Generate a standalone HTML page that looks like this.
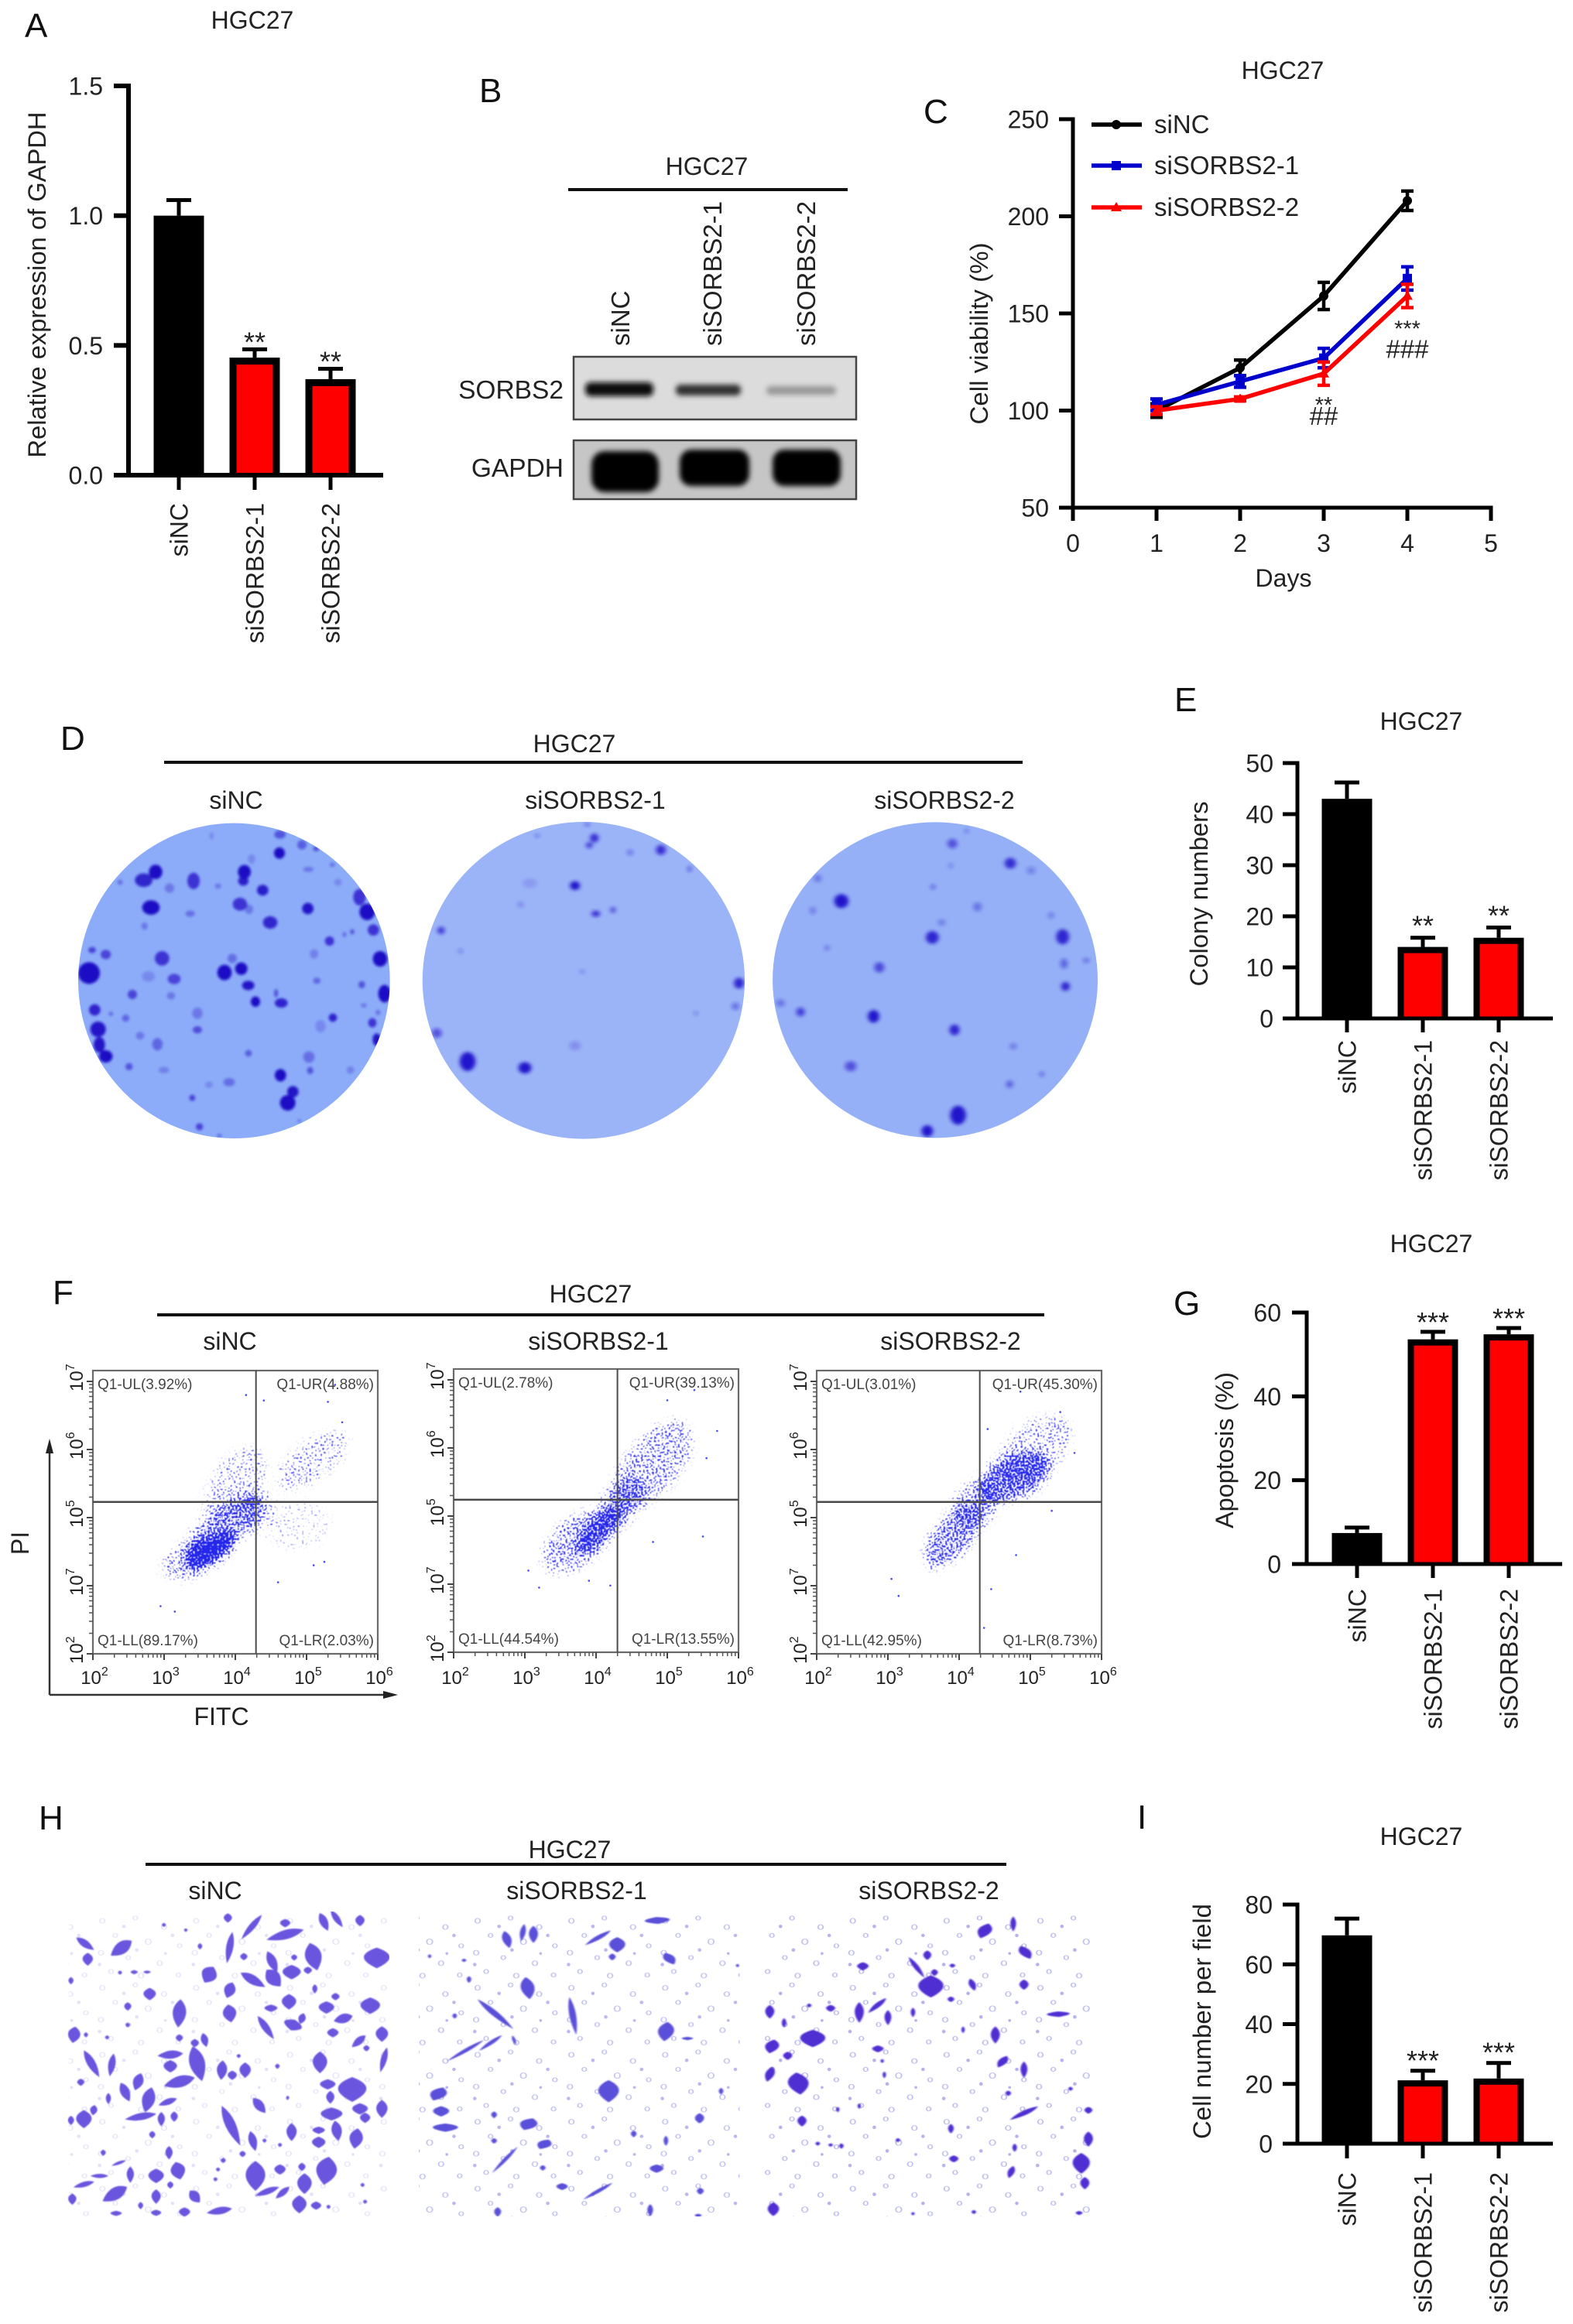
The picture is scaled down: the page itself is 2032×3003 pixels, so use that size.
<!DOCTYPE html>
<html lang="en">
<head>
<meta charset="utf-8">
<title>HGC27 SORBS2 knockdown figure</title>
<style>
html,body{margin:0;padding:0;background:#fff;}
svg{display:block;}
text{font-family:"Liberation Sans",sans-serif;fill:#222;font-size:32px;}
.letter{font-size:44px;fill:#111;}
.quad{font-size:19px;fill:#444;}
</style>
</head>
<body>
<svg id="figure" xmlns="http://www.w3.org/2000/svg" width="2032" height="3003" viewBox="0 0 2032 3003">
<defs>
  <filter id="stipple" filterUnits="userSpaceOnUse" x="0" y="1700" width="1500" height="500" color-interpolation-filters="sRGB">
    <feGaussianBlur in="SourceAlpha" stdDeviation="6" result="soft"/>
    <feTurbulence type="fractalNoise" baseFrequency="0.42" numOctaves="1" seed="7" result="noise"/>
    <feColorMatrix in="noise" type="matrix" values="0 0 0 0 0  0 0 0 0 0  0 0 0 0 0  0 0 0 2.4 -0.7" result="grain"/>
    <feComposite in="soft" in2="grain" operator="arithmetic" k1="0" k2="1" k3="1" k4="-1" result="sum"/>
    <feComponentTransfer in="sum" result="dots"><feFuncA type="linear" slope="6" intercept="0"/></feComponentTransfer>
    <feFlood flood-color="#2426ea" result="ink"/>
    <feComposite in="ink" in2="dots" operator="in" result="blue"/>
    <feGaussianBlur in="blue" stdDeviation="0.5"/>
  </filter>
  <filter id="colonyBlur" x="-30%" y="-30%" width="160%" height="160%"><feGaussianBlur stdDeviation="3 5"/></filter>
  <filter id="colonyBlurRound" x="-10%" y="-10%" width="120%" height="120%"><feGaussianBlur stdDeviation="5"/></filter>
  <filter id="cellBlur" x="-10%" y="-10%" width="120%" height="120%"><feGaussianBlur stdDeviation="1.2 2"/></filter>
  <filter id="cellBlurRound" x="-10%" y="-10%" width="120%" height="120%"><feGaussianBlur stdDeviation="2.5"/></filter>
  <filter id="bandBlur" x="-30%" y="-60%" width="160%" height="220%"><feGaussianBlur stdDeviation="3.5"/></filter>
  <clipPath id="clipPlate1"><ellipse cx="622" cy="622" rx="604" ry="611"/></clipPath>
  <clipPath id="clipPlate2"><ellipse cx="815" cy="948" rx="225" ry="502"/></clipPath>
  <clipPath id="clipPlate3"><ellipse cx="1306" cy="947" rx="227" ry="500"/></clipPath>
  <clipPath id="clipField1"><rect x="8" y="0" width="1245" height="1185"/></clipPath>
  <clipPath id="clipField2"><rect x="585" y="380" width="448" height="878"/></clipPath>
  <clipPath id="clipField3"><rect x="1065" y="380" width="463" height="878"/></clipPath>
  <pattern id="pores" patternUnits="userSpaceOnUse" width="131" height="193">
    <g fill="none" stroke="#9c9ce6" stroke-width="2">
      <ellipse cx="12" cy="20" rx="3.5" ry="7"/><ellipse cx="58" cy="12" rx="3" ry="6"/><ellipse cx="98" cy="38" rx="3.5" ry="7"/>
      <ellipse cx="30" cy="62" rx="3" ry="6"/><ellipse cx="76" cy="80" rx="4" ry="8"/><ellipse cx="120" cy="92" rx="3" ry="6"/>
      <ellipse cx="10" cy="112" rx="3.5" ry="7"/><ellipse cx="48" cy="126" rx="3" ry="6"/><ellipse cx="92" cy="142" rx="3.5" ry="7"/>
      <ellipse cx="24" cy="166" rx="3" ry="6"/><ellipse cx="66" cy="178" rx="3.5" ry="7"/><ellipse cx="118" cy="176" rx="3" ry="6"/>
    </g>
    <g fill="#8d88e4">
      <ellipse cx="42" cy="36" rx="2.5" ry="5"/><ellipse cx="110" cy="62" rx="2.5" ry="5"/><ellipse cx="60" cy="104" rx="2.5" ry="5"/><ellipse cx="8" cy="146" rx="2.5" ry="5"/><ellipse cx="100" cy="114" rx="2" ry="4"/>
    </g>
  </pattern>
</defs>

<!-- Panel A -->
<text class="letter" x="32" y="48">A</text>
<text x="326" y="37" text-anchor="middle">HGC27</text>
<text x="59" y="368" text-anchor="middle" textLength="447" lengthAdjust="spacingAndGlyphs" transform="rotate(-90 59 368)">Relative expression of GAPDH</text>
<g id="chartA"></g>

<!-- Panel B -->
<text class="letter" x="619" y="132">B</text>
<text x="913" y="226" text-anchor="middle">HGC27</text>
<rect x="734" y="243" width="361" height="4" fill="#111"/>
<text x="813" y="447" transform="rotate(-90 813 447)" style="font-size:33px">siNC</text>
<text x="932" y="447" transform="rotate(-90 932 447)" style="font-size:33px">siSORBS2-1</text>
<text x="1053" y="447" transform="rotate(-90 1053 447)" style="font-size:33px">siSORBS2-2</text>
<text x="728" y="515" text-anchor="end" style="font-size:33.5px">SORBS2</text>
<text x="728" y="616" text-anchor="end" style="font-size:33.5px">GAPDH</text>
<g>
  <rect x="741" y="461" width="365" height="81" fill="#dcdcdc" stroke="#444" stroke-width="2.5"/>
  <g filter="url(#bandBlur)">
    <rect x="756" y="494" width="88" height="18" rx="7" fill="#0d0d0d"/>
    <rect x="873" y="497" width="84" height="14" rx="6" fill="#2e2e2e"/>
    <rect x="990" y="499" width="90" height="11" rx="5" fill="#969696"/>
  </g>
</g>
<g>
  <rect x="741" y="569" width="365" height="76" fill="#c6c6c6" stroke="#444" stroke-width="2.5"/>
  <g filter="url(#bandBlur)" fill="#050505">
    <rect x="764" y="583" width="87" height="53" rx="17"/>
    <rect x="878" y="581" width="90" height="47" rx="15"/>
    <rect x="998" y="581" width="88" height="47" rx="15"/>
  </g>
</g>

<!-- Panel C -->
<text class="letter" x="1193" y="159">C</text>
<text x="1657" y="102" text-anchor="middle">HGC27</text>
<text x="1276" y="431" text-anchor="middle" textLength="235" lengthAdjust="spacingAndGlyphs" transform="rotate(-90 1276 431)">Cell viability (%)</text>
<text x="1658" y="758" text-anchor="middle">Days</text>
<g id="chartC"></g>

<!-- Panel D -->
<text class="letter" x="78" y="969">D</text>
<text x="742" y="972" text-anchor="middle">HGC27</text>
<rect x="212" y="983" width="1109" height="4" fill="#111"/>
<text x="305" y="1045" text-anchor="middle">siNC</text>
<text x="769" y="1045" text-anchor="middle">siSORBS2-1</text>
<text x="1220" y="1045" text-anchor="middle">siSORBS2-2</text>
<g transform="translate(95,1060) scale(.33333)">
  <ellipse cx="622" cy="622" rx="604" ry="611" fill="#8cabf8"/>
  <g clip-path="url(#clipPlate1)"><g id="colonies1" filter="url(#colonyBlurRound)"></g></g>
</g>
<g transform="translate(0,880) scale(.925,.408)">
  <ellipse cx="815" cy="948" rx="225" ry="502" fill="#9bb4f7"/>
  <ellipse cx="1306" cy="947" rx="227" ry="500" fill="#95b0f6"/>
  <g clip-path="url(#clipPlate2)"><g id="colonies2" filter="url(#colonyBlur)"></g></g>
  <g clip-path="url(#clipPlate3)"><g id="colonies3" filter="url(#colonyBlur)"></g></g>
</g>

<!-- Panel E -->
<text class="letter" x="1517" y="919">E</text>
<text x="1836" y="943" text-anchor="middle">HGC27</text>
<text x="1560" y="1155" text-anchor="middle" textLength="239" lengthAdjust="spacingAndGlyphs" transform="rotate(-90 1560 1155)">Colony numbers</text>
<g id="chartE"></g>

<!-- Panel F -->
<text class="letter" x="68" y="1685">F</text>
<text x="763" y="1683" text-anchor="middle">HGC27</text>
<rect x="203" y="1697" width="1146" height="4" fill="#111"/>
<text x="297" y="1744" text-anchor="middle">siNC</text>
<text x="773" y="1744" text-anchor="middle">siSORBS2-1</text>
<text x="1228" y="1744" text-anchor="middle">siSORBS2-2</text>
<g stroke="#333" stroke-width="2.5" fill="#222">
  <line x1="64" y1="2190" x2="64" y2="1872"/>
  <line x1="64" y1="2190" x2="500" y2="2190"/>
  <path d="M64 1859 L69 1878 L59 1878 Z" stroke="none"/>
  <path d="M514 2190 L495 2185 L495 2195 Z" stroke="none"/>
</g>
<text x="37" y="1994" text-anchor="middle" transform="rotate(-90 37 1994)">PI</text>
<text x="286" y="2229" text-anchor="middle">FITC</text>
<g id="flowPlots"></g>

<!-- Panel G -->
<text class="letter" x="1516" y="1699">G</text>
<text x="1849" y="1618" text-anchor="middle">HGC27</text>
<text x="1593" y="1874" text-anchor="middle" textLength="202" lengthAdjust="spacingAndGlyphs" transform="rotate(-90 1593 1874)">Apoptosis (%)</text>
<g id="chartG"></g>

<!-- Panel H -->
<text class="letter" x="50" y="2364">H</text>
<text x="736" y="2401" text-anchor="middle">HGC27</text>
<rect x="188" y="2407" width="1112" height="4" fill="#111"/>
<text x="278" y="2454" text-anchor="middle">siNC</text>
<text x="745" y="2454" text-anchor="middle">siSORBS2-1</text>
<text x="1200" y="2454" text-anchor="middle">siSORBS2-2</text>
<g transform="translate(0,2300) scale(.925,.4484)">
  <rect x="96" y="380" width="446" height="878" fill="url(#pores)" opacity=".25"/>
  <rect x="585" y="380" width="448" height="878" fill="url(#pores)" opacity=".6"/>
  <rect x="1065" y="380" width="463" height="878" fill="url(#pores)" opacity=".65"/>
  <g clip-path="url(#clipField2)"><g id="cells2" fill="#5a50d8" filter="url(#cellBlur)"></g></g>
  <g clip-path="url(#clipField3)"><g id="cells3" fill="#4f2fd2" filter="url(#cellBlur)"></g></g>
</g>
<g transform="translate(85,2470) scale(.33333)">
  <g clip-path="url(#clipField1)"><g id="cells1" fill="#6b56de" filter="url(#cellBlurRound)"></g></g>
</g>

<!-- Panel I -->
<text class="letter" x="1469" y="2363">I</text>
<text x="1836" y="2384" text-anchor="middle">HGC27</text>
<text x="1564" y="2612" text-anchor="middle" textLength="304" lengthAdjust="spacingAndGlyphs" transform="rotate(-90 1564 2612)">Cell number per field</text>
<g id="chartI"></g>
</svg>

<script>
// ---------- shared categories ----------
const barCategories = ['siNC', 'siSORBS2-1', 'siSORBS2-2'];

// ---------- panel A ----------
const panelAValues = [1.0, 0.453, 0.37];
const panelAErrors = [0.06, 0.032, 0.04];
const panelAStars = ['', '**', '**'];
const panelATicks = [0, 0.5, 1.0, 1.5];
const panelATickLabels = ['0.0', '0.5', '1.0', '1.5'];

// ---------- panel E ----------
const panelEValues = [43, 14, 15.8];
const panelEErrors = [3.2, 1.8, 2.0];
const panelEStars = ['', '**', '**'];
const panelETicks = [0, 10, 20, 30, 40, 50];
const panelETickLabels = ['0', '10', '20', '30', '40', '50'];

// ---------- panel G ----------
const panelGValues = [7.4, 53.6, 54.8];
const panelGErrors = [1.3, 1.8, 1.5];
const panelGStars = ['', '***', '***'];
const panelGTicks = [0, 20, 40, 60];
const panelGTickLabels = ['0', '20', '40', '60'];

// ---------- panel I ----------
const panelIValues = [69.7, 21.2, 21.8];
const panelIErrors = [5.6, 3.2, 5.2];
const panelIStars = ['', '***', '***'];
const panelITicks = [0, 20, 40, 60, 80];
const panelITickLabels = ['0', '20', '40', '60', '80'];

// ---------- panel C ----------
const dayValues = [1, 2, 3, 4];
const dayTicks = [0, 1, 2, 3, 4, 5];
const viabilityTicks = [50, 100, 150, 200, 250];
const viabilityNC = [100, 122, 159, 208];
const viabilityNCError = [3.5, 4, 7, 5];
const viabilityS1 = [103, 115, 127, 168];
const viabilityS1Error = [3, 3, 5, 6];
const viabilityS2 = [100, 106, 119, 159];
const viabilityS2Error = [2, 1, 6, 6];
const seriesNames = ['siNC', 'siSORBS2-1', 'siSORBS2-2'];
const viabilityStars = ['', '', '**', '***'];
const viabilityHashes = ['', '', '##', '###'];

// ---------- panel F: axis labels, gates, quadrant text, density clouds ----------
const flowXDecades = [2, 3, 4, 5, 6];
const flowYDecades = [2, 3, 4, 5, 6];
const flowYExponents = ['2', '7', '5', '6', '7'];
const flowGate1 = [4.29, 4.23];
const flowGate2 = [4.30, 4.24];
const flowGate3 = [4.29, 4.23];
const flowQuad1 = ['Q1-UL(3.92%)', 'Q1-UR(4.88%)', 'Q1-LL(89.17%)', 'Q1-LR(2.03%)'];
const flowQuad2 = ['Q1-UL(2.78%)', 'Q1-UR(39.13%)', 'Q1-LL(44.54%)', 'Q1-LR(13.55%)'];
const flowQuad3 = ['Q1-UL(3.01%)', 'Q1-UR(45.30%)', 'Q1-LL(42.95%)', 'Q1-LR(8.73%)'];
// each cloud: log10 FITC, log10 PI, half-spread (decades) along/across, tilt, density
const flowClouds1 = [
  [3.65, 3.52, 0.40, 0.17, -32, 1.0], [3.85, 3.86, 0.67, 0.27, -38, 0.48],
  [3.40, 3.40, 0.45, 0.24, -25, 0.34], [3.99, 4.47, 0.60, 0.33, -55, 0.24],
  [5.08, 4.84, 0.60, 0.26, -35, 0.24], [4.86, 3.90, 0.47, 0.34, 0, 0.11],
  [4.30, 4.10, 0.22, 0.30, 0, 0.26]
];
const flowClouds2 = [
  [4.06, 3.81, 0.46, 0.18, -45, 0.62], [3.74, 3.63, 0.58, 0.32, -40, 0.38],
  [4.79, 4.75, 0.74, 0.38, -50, 0.34], [4.37, 4.22, 0.40, 0.26, -50, 0.40]
];
const flowClouds3 = [
  [3.93, 3.74, 0.56, 0.26, -50, 0.50], [4.76, 4.59, 0.56, 0.30, -25, 0.62],
  [5.05, 5.00, 0.60, 0.36, -40, 0.26], [4.23, 4.19, 0.34, 0.30, -30, 0.36]
];
// isolated events: log10 FITC, log10 PI
const flowStrays1 = [[5.40,5.95],[5.30,5.70],[4.40,5.72],[4.15,5.80],[5.25,3.35],[5.10,3.30],[4.60,3.05],[2.95,2.70],[3.15,2.62],[5.50,5.40]];
const flowStrays2 = [[5.38,5.85],[5.00,5.70],[5.70,5.25],[5.55,4.85],[5.50,3.70],[4.80,3.62],[4.20,2.98],[3.90,3.05],[3.05,3.20],[3.20,2.95]];
const flowStrays3 = [[4.86,5.85],[5.42,5.55],[5.62,4.95],[4.40,5.30],[4.80,3.45],[4.45,2.95],[4.35,2.38],[3.05,3.10],[3.15,2.85],[5.30,4.10]];

// ---------- panel D colonies (traced from the plates) ----------
const coloniesPlate1 = [[318,200,26,28,1],[272,232,34,26,.85],[300,338,34,28,1],[372,263,18,18,.3],[465,235,24,32,.7],[662,200,25,27,1],[658,235,20,18,.9],[733,271,22,21,.9],[798,127,21,22,1],[800,55,22,16,.5],[885,95,18,18,.45],[940,110,12,10,.5],[910,190,20,10,.3],[645,325,28,25,.7],[680,345,16,18,.3],[762,396,28,24,.85],[908,342,22,22,.95],[1108,298,24,32,.7],[1138,355,30,32,1],[1162,425,22,22,.7],[992,468,18,18,.7],[1188,537,28,30,1],[1205,672,24,34,1],[932,518,16,18,.25],[60,592,42,42,1],[72,503,15,12,.6],[125,520,20,18,.6],[343,535,28,28,.7],[390,615,25,20,.6],[290,605,25,20,.2],[585,590,28,30,1],[650,575,24,24,1],[615,535,18,18,.35],[677,640,24,18,.95],[705,703,18,20,1],[805,708,25,18,.8],[785,670,8,16,.5],[228,675,18,18,.6],[378,680,16,14,.3],[82,735,22,22,.8],[480,748,20,22,.3],[480,812,18,14,.55],[202,767,14,14,.4],[95,810,30,30,.95],[100,870,22,30,.95],[125,915,26,24,1],[258,835,16,15,.3],[325,868,20,24,.4],[215,955,14,14,.5],[350,968,20,12,.25],[678,903,13,13,.45],[912,918,22,22,.35],[917,970,12,14,.5],[957,798,20,24,.2],[1005,765,16,16,.8],[1158,785,16,18,.7],[1175,850,16,24,.95],[1117,637,13,14,.5],[1073,968,14,14,.25],[802,988,22,24,1],[850,1052,22,22,.95],[830,1095,30,30,1],[603,1015,22,16,.35],[525,1025,15,12,.2],[460,1076,12,12,.6],[488,1188,14,14,.6],[452,362,18,12,.35],[275,410,12,14,.3],[180,240,10,10,.35],[535,60,8,14,.2],[1050,443,8,10,.35],[1080,432,8,10,.5],[943,622,14,12,.4],[1003,172,10,8,.35],[1025,240,14,14,.2],[690,150,14,18,.2],[560,255,12,10,.3],[1125,717,12,8,.3],[1180,745,9,10,.35],[145,750,8,8,.4],[565,1222,10,6,.4],[875,1165,8,6,.3]];
const coloniesPlate2 = [[830,497,6,14,.85],[823,520,5,10,.7],[923,535,7,16,.8],[803,648,7,14,1],[832,737,6,10,.8],[856,725,4,10,.6],[880,543,4,10,.4],[963,595,3,10,.5],[740,640,10,15,.15],[616,790,5,12,.75],[1032,957,7,17,.9],[1027,1030,5,12,.45],[610,1115,7,15,.6],[653,1205,11,30,1],[733,1225,9,18,1],[803,1155,8,15,.2],[972,1052,3,7,.3],[727,708,5,10,.2],[813,920,4,8,.2],[820,455,4,5,.5],[750,490,3,6,.4],[643,855,3,8,.3]];
const coloniesPlate3 = [[1330,515,7,15,.6],[1411,577,8,17,.85],[1175,697,10,22,1],[1302,812,9,20,.9],[1484,810,9,24,.9],[1228,907,7,16,.65],[1486,895,5,16,.5],[1488,967,6,14,.9],[1220,1062,8,20,1],[1118,1048,6,14,.7],[1333,1105,7,17,.9],[1188,1220,8,16,.6],[1338,1375,11,30,1],[1295,1425,8,18,1],[1410,1277,5,12,.5],[1455,1245,3,8,.5],[1415,1157,5,10,.35],[1365,715,6,14,.4],[1315,765,5,10,.35],[1440,600,6,12,.3],[1142,625,5,12,.4],[1135,727,4,12,.35],[1468,742,4,10,.35],[1303,652,3,8,.5],[1517,885,4,8,.45],[1155,845,3,8,.45],[1090,1020,6,12,.4],[1350,475,3,10,.25],[1328,585,3,8,.3]];

// ---------- panel H stained cells (traced from the fields) ----------
const cellsField1 = [[75,125,14,42,-55],[85,185,20,25,0],[215,142,24,50,55],[20,268,10,14,0],[325,320,24,24,0],[265,235,14,8,0],[315,235,14,6,0],[210,237,8,8,0],[628,25,16,18,0],[720,60,12,62,40],[635,140,14,62,10],[555,245,30,35,30],[635,305,22,32,20],[635,395,26,35,-10],[850,45,20,16,0],[850,90,18,75,75],[1000,40,16,38,-25],[1050,28,12,40,-35],[1140,35,18,22,0],[960,175,32,55,-15],[800,195,18,45,-25],[875,235,35,28,0],[725,265,18,55,-60],[805,258,28,42,-40],[938,228,16,14,0],[1205,180,50,40,0],[965,300,10,18,0],[440,395,26,55,5],[240,368,14,16,0],[795,375,25,14,0],[865,350,28,30,0],[1010,372,30,24,0],[1180,365,38,32,0],[1075,415,18,38,75],[775,450,14,55,-35],[880,440,36,22,20],[915,415,14,22,20],[1045,330,16,14,0],[32,478,24,32,10],[1035,470,22,18,0],[1135,503,14,35,50],[1165,530,12,12,0],[1225,475,24,30,0],[1232,575,12,50,15],[440,490,14,14,0],[538,498,14,28,-15],[500,510,16,16,0],[985,585,28,42,0],[100,590,16,60,-30],[178,595,14,45,10],[405,555,16,50,85],[405,600,26,24,0],[440,660,22,62,75],[510,590,30,70,-15],[605,615,20,38,5],[645,635,18,18,0],[695,615,22,30,0],[58,662,14,14,0],[280,660,20,35,20],[230,700,18,40,-25],[165,725,10,22,0],[320,730,25,50,15],[395,738,12,38,70],[290,795,14,62,80],[370,805,14,28,0],[420,795,14,20,0],[70,805,30,35,0],[108,770,14,20,10],[20,810,12,18,0],[750,752,18,38,-40],[640,830,20,85,-25],[725,890,16,40,-15],[1015,670,30,20,0],[1025,720,16,25,0],[1030,785,42,25,0],[1110,690,55,48,0],[1140,765,30,22,0],[1225,765,22,35,0],[1160,800,20,20,0],[1050,850,20,40,-10],[875,855,20,35,0],[980,848,24,14,0],[980,895,26,22,0],[1125,880,26,40,10],[400,935,14,26,0],[335,865,12,14,0],[145,935,10,12,0],[685,940,12,12,0],[735,1025,38,58,0],[830,1000,22,20,0],[915,990,14,16,0],[925,1055,28,40,0],[1010,1005,40,55,10],[780,1085,12,50,70],[840,1090,12,35,50],[350,1025,30,28,0],[435,1005,28,35,-15],[250,1020,14,32,0],[130,1025,8,35,90],[70,1058,10,42,75],[205,975,6,30,70],[190,1095,24,55,60],[25,1115,16,22,0],[350,1105,18,28,0],[500,1105,20,30,-40],[905,1135,28,35,0],[970,1140,20,16,0],[595,1160,14,50,80],[350,1168,20,12,0],[195,1170,22,10,0],[460,1165,22,18,0],[290,1140,10,14,0],[405,1060,12,14,0],[1160,1125,8,8,0],[1018,1145,8,8,0],[830,905,8,8,0],[860,722,6,8,0],[770,888,8,8,0],[610,965,10,10,0],[590,1000,8,8,0],[580,1038,8,8,0],[1045,328,12,12,0],[690,175,14,14,0],[885,178,12,12,0],[465,72,7,7,0],[380,52,8,8,0],[520,135,9,12,0],[240,440,9,9,0],[160,488,8,8,0],[78,478,8,10,0],[820,600,9,10,0],[670,560,8,8,0],[1150,1060,8,8,0]];
const cellsField2 = [[708,460,8,25,-8],[730,440,5,25,5],[745,445,8,25,0],[835,455,6,28,40],[862,475,14,22,0],[918,405,22,10,-8],[935,515,10,18,-20],[855,510,6,10,0],[737,600,12,32,-5],[692,675,7,50,-30],[800,680,6,55,-5],[930,725,14,28,5],[960,745,10,5,0],[650,780,5,40,40],[685,758,5,28,35],[718,750,3,14,-10],[850,897,18,32,0],[612,905,14,20,20],[616,955,14,15,0],[622,1002,22,12,0],[738,992,15,18,20],[760,1050,12,15,25],[705,1095,4,42,25],[917,1120,12,12,0],[785,1172,10,10,0],[835,1185,5,32,40],[977,975,8,15,0],[978,1185,6,10,0],[908,1240,5,18,0],[1007,897,4,10,0],[690,965,5,10,0],[690,1040,5,8,0],[885,1020,5,10,0],[975,1255,6,5,0],[655,575,4,10,0],[635,680,4,8,0],[648,520,4,5,0],[600,508,3,6,0],[1030,535,3,5,0],[930,1040,4,15,0],[758,1118,5,8,0],[695,1245,6,14,0]];
const cellsField3 = [[1375,435,12,22,15],[1415,415,5,22,0],[1295,505,7,14,0],[1330,535,5,6,0],[1280,540,5,32,-20],[1305,555,6,10,0],[1205,537,10,12,0],[1300,595,22,32,0],[1328,632,6,8,0],[1358,590,6,18,-10],[1432,497,10,20,-20],[1430,590,8,15,0],[1075,668,8,20,0],[1160,658,8,10,0],[1200,670,8,30,0],[1225,650,6,25,30],[1240,685,6,22,0],[1275,670,4,14,0],[1135,745,22,25,0],[1078,768,12,20,10],[1100,795,8,12,0],[1226,775,10,10,0],[1075,848,8,22,10],[1115,875,18,32,-5],[1478,675,20,8,-5],[1390,735,8,25,0],[1400,812,8,18,20],[1430,835,6,24,0],[1232,810,3,6,0],[1235,850,3,10,0],[1430,960,7,28,45],[1520,952,7,10,0],[1120,983,8,16,0],[1520,1035,8,22,0],[1510,1105,15,30,0],[1515,1162,8,18,0],[1412,1130,6,18,10],[1332,1092,8,10,0],[1328,1005,5,14,0],[1080,1237,10,20,0],[1507,1248,6,6,0],[1175,1055,4,8,0],[1142,1048,4,6,0],[1160,1052,4,5,0],[1254,1038,4,6,0],[1417,1060,4,12,0],[1200,940,3,8,0],[1345,720,3,10,0],[1495,890,4,6,0],[1170,950,3,8,0],[1360,1245,4,6,0],[1408,903,5,8,0],[1095,700,4,14,0],[1130,650,4,6,0],[1275,1250,3,5,0]];

// ---------- helpers ----------
const NS = 'http://www.w3.org/2000/svg';
function make(parent, tag, attrs, content) {
  const node = document.createElementNS(NS, tag);
  for (const key in attrs) node.setAttribute(key, attrs[key]);
  if (content !== undefined) node.textContent = content;
  parent.appendChild(node);
  return node;
}

// ---------- bar charts ----------
function drawBarChart(root, cfg) {
  const last = cfg.ticks.length - 1;
  const yScale = v => cfg.y0 - (v - cfg.ticks[0]) * (cfg.y0 - cfg.yTop) / (cfg.ticks[last] - cfg.ticks[0]);
  const xScale = i => cfg.x0 + i * cfg.step;
  const barW = 65;

  cfg.values.forEach((value, i) => {
    const cx = xScale(i);
    const top = yScale(value);
    const errTop = yScale(value + cfg.errors[i]);
    const stem = make(root, 'rect', {x: cx - 2.5, y: errTop, width: 5, height: top - errTop, fill: '#000'});
    
    
    const cap = make(root, 'rect', {x: cx - 16, y: errTop - 2.5, width: 32, height: 5, fill: '#000'});
    
    
    const bar = make(root, 'rect', {x: cx - barW / 2, y: top, width: barW, height: cfg.y0 - top, fill: '#000'});
    
    
    if (i > 0) {
      const inset = cfg.inset;
      const fill = make(root, 'rect', {x: cx - barW / 2 + inset, y: top + inset, width: barW - 2 * inset, height: Math.max(0, cfg.y0 - top - inset), fill: '#ff0000'});
      
      
    }
    if (cfg.stars[i]) {
      const star = make(root, 'text', {x: cx, y: errTop - cfg.starLift + 21, 'text-anchor': 'middle', style: 'font-size:36px'}, cfg.stars[i]);
      
      
    }
    const tick = make(root, 'rect', {x: cx - 2.5, y: cfg.y0, width: 5, height: cfg.tickBottom - cfg.y0, fill: '#000'});
    
    
    const labelX = cx + 11.5;
    const label = make(root, 'text', {x: labelX, y: cfg.labelTop, 'text-anchor': 'end', transform: 'rotate(-90 ' + labelX + ' ' + cfg.labelTop + ')'}, cfg.categories[i]);
    
    
  });

  cfg.ticks.forEach((v, i) => {
    const py = yScale(v);
    const tick = make(root, 'rect', {x: cfg.leftTick, y: py - cfg.axisW / 2, width: cfg.axisX - cfg.leftTick, height: cfg.axisW, fill: '#000'});
    
    
    const label = make(root, 'text', {x: cfg.labelRight, y: py + 11.5, 'text-anchor': 'end'}, cfg.tickLabels[i]);
    
    
  });

  const yAxis = make(root, 'rect', {x: cfg.axisX - cfg.axisW / 2, y: cfg.yTop - cfg.axisW / 2, width: cfg.axisW, height: cfg.y0 - cfg.yTop + cfg.axisW, fill: '#000'});
  
  
  const xAxis = make(root, 'rect', {x: cfg.leftTick, y: cfg.y0 - cfg.axisW / 2, width: cfg.right - cfg.leftTick, height: cfg.axisW, fill: '#000'});
  
  
}

drawBarChart(document.getElementById('chartA'), {categories: barCategories, values: panelAValues, errors: panelAErrors, stars: panelAStars, ticks: panelATicks, tickLabels: panelATickLabels, y0: 614, yTop: 111, x0: 231, step: 98, axisX: 166, leftTick: 147, right: 495, axisW: 6, inset: 9, tickBottom: 633, labelTop: 650, labelRight: 133, starLift: 18});
drawBarChart(document.getElementById('chartE'), {categories: barCategories, values: panelEValues, errors: panelEErrors, stars: panelEStars, ticks: panelETicks, tickLabels: panelETickLabels, y0: 1316, yTop: 986, x0: 1740, step: 98, axisX: 1676, leftTick: 1657, right: 2006, axisW: 5, inset: 8, tickBottom: 1334, labelTop: 1344, labelRight: 1645, starLift: 24});
drawBarChart(document.getElementById('chartG'), {categories: barCategories, values: panelGValues, errors: panelGErrors, stars: panelGStars, ticks: panelGTicks, tickLabels: panelGTickLabels, y0: 2021, yTop: 1696, x0: 1753, step: 98, axisX: 1688, leftTick: 1669, right: 2018, axisW: 5, inset: 8, tickBottom: 2039, labelTop: 2053, labelRight: 1655, starLift: 21});
drawBarChart(document.getElementById('chartI'), {categories: barCategories, values: panelIValues, errors: panelIErrors, stars: panelIStars, ticks: panelITicks, tickLabels: panelITickLabels, y0: 2770, yTop: 2461, x0: 1740, step: 98, axisX: 1676, leftTick: 1657, right: 2006, axisW: 5, inset: 8, tickBottom: 2789, labelTop: 2807, labelRight: 1644, starLift: 22});

// ---------- line chart ----------
(function drawLineChart() {
  const root = document.getElementById('chartC');
  const y0 = 656, yTop = 154, x0 = 1386, xEnd = 1926;
  const vLow = viabilityTicks[0], vHigh = viabilityTicks[viabilityTicks.length - 1];
  const dLow = dayTicks[0], dHigh = dayTicks[dayTicks.length - 1];
  const yScale = v => y0 - (v - vLow) * (y0 - yTop) / (vHigh - vLow);
  const xScale = d => x0 + (d - dLow) * (xEnd - x0) / (dHigh - dLow);

  function marker(parent, kind, px, py, color) {
    let m;
    if (kind === 0) m = make(parent, 'circle', {cx: px, cy: py, r: 6, fill: color});
    else if (kind === 1) m = make(parent, 'rect', {x: px - 6, y: py - 6, width: 12, height: 12, fill: color});
    else m = make(parent, 'path', {d: 'M' + px + ' ' + (py - 7) + 'L' + (px + 7) + ' ' + (py + 5) + 'L' + (px - 7) + ' ' + (py + 5) + 'Z', fill: color});
    
    
  }

  function drawSeries(kind, color, values, errors) {
    const points = values.map((v, i) => xScale(dayValues[i]) + ',' + yScale(v)).join(' ');
    const line = make(root, 'polyline', {points: points, fill: 'none', stroke: color, 'stroke-width': 5.5, 'stroke-linejoin': 'round'});
    
    
    values.forEach((v, i) => {
      const px = xScale(dayValues[i]);
      const hi = yScale(v + errors[i]), lo = yScale(v - errors[i]);
      const err = make(root, 'path', {d: 'M' + px + ' ' + hi + 'V' + lo + 'M' + (px - 8) + ' ' + hi + 'H' + (px + 8) + 'M' + (px - 8) + ' ' + lo + 'H' + (px + 8), stroke: color, 'stroke-width': 4.5, fill: 'none'});
      
      
      marker(root, kind, px, yScale(v), color);
    });
  }

  drawSeries(0, '#000000', viabilityNC, viabilityNCError);
  drawSeries(1, '#0000cc', viabilityS1, viabilityS1Error);
  drawSeries(2, '#ff0000', viabilityS2, viabilityS2Error);

  viabilityTicks.forEach(v => {
    const py = yScale(v);
    const tick = make(root, 'rect', {x: 1368, y: py - 2.5, width: x0 - 1368, height: 5, fill: '#000'});
    
    
    const label = make(root, 'text', {x: 1355, y: py + 11.5, 'text-anchor': 'end'}, String(v));
    
    
  });
  dayTicks.forEach(d => {
    const px = xScale(d);
    const tick = make(root, 'rect', {x: px - 2.5, y: y0, width: 5, height: 673 - y0, fill: '#000'});
    
    
    const label = make(root, 'text', {x: px, y: 713, 'text-anchor': 'middle'}, String(d));
    
    
  });
  const yAxis = make(root, 'rect', {x: x0 - 2.5, y: yTop - 2.5, width: 5, height: y0 - yTop + 5, fill: '#000'});
  
  
  const xAxis = make(root, 'rect', {x: 1368, y: y0 - 2.5, width: xEnd + 2.5 - 1368, height: 5, fill: '#000'});
  
  

  dayValues.forEach((d, i) => {
    if (!viabilityStars[i]) return;
    const px = xScale(d);
    const low = yScale(viabilityS2[i] - viabilityS2Error[i]);
    const star = make(root, 'text', {x: px, y: low + (i === 3 ? 37 : 35), 'text-anchor': 'middle', style: 'font-size:29px'}, viabilityStars[i]);
    
    
    const hash = make(root, 'text', {x: px, y: low + (i === 3 ? 65 : 51), 'text-anchor': 'middle', style: 'font-size:33px'}, viabilityHashes[i]);
    
    
  });

  const legendY = [161, 214, 268];
  const legendColors = ['#000000', '#0000cc', '#ff0000'];
  seriesNames.forEach((name, i) => {
    const ln = make(root, 'line', {x1: 1410, x2: 1475, y1: legendY[i], y2: legendY[i], stroke: legendColors[i], 'stroke-width': 5.5});
    
    
    marker(root, i, 1442, legendY[i], legendColors[i]);
    const label = make(root, 'text', {x: 1491, y: legendY[i] + 11, style: 'font-size:33px'}, name);
    
    
  });
})();

// ---------- flow cytometry ----------
function drawFlowPlot(parent, left, bottom, clouds, strays, gate, quad) {
  const plotW = 368, plotH = 366, top = bottom - plotH, right = left + plotW, perDecY = 88;
  const X = d => left + (d - 2) * plotW / 4;
  const Y = d => bottom - (d - 2) * perDecY;
  const root = make(parent, 'g', {});
  
  

  const cloudLayer = make(root, 'g', {filter: 'url(#stipple)'});
  
  
  clouds.forEach(c => {
    const px = X(c[0]), py = Y(c[1]);
    const blob = make(cloudLayer, 'ellipse', {cx: px, cy: py, rx: c[2] * 92, ry: c[3] * 92, transform: 'rotate(' + c[4] + ' ' + px + ' ' + py + ')', fill: '#000', 'fill-opacity': c[5]});
    
    
  });
  strays.forEach(s => {
    const dot = make(root, 'circle', {cx: X(s[0]), cy: Y(s[1]), r: 1.3, fill: '#4a4af0'});
    
    
  });

  const box = make(root, 'rect', {x: left, y: top, width: plotW, height: plotH, fill: 'none', stroke: '#6a6a6a', 'stroke-width': 2.2});
  
  
  const vGate = make(root, 'line', {x1: X(gate[0]), x2: X(gate[0]), y1: top, y2: bottom, stroke: '#4a4a4a', 'stroke-width': 2});
  
  
  const hGate = make(root, 'line', {x1: left, x2: right, y1: Y(gate[1]), y2: Y(gate[1]), stroke: '#4a4a4a', 'stroke-width': 2.4});
  
  

  const qUL = make(root, 'text', {x: left + 6, y: top + 24, class: 'quad'}, quad[0]);
  
  
  const qUR = make(root, 'text', {x: right - 5, y: top + 24, class: 'quad', 'text-anchor': 'end'}, quad[1]);
  
  
  const qLL = make(root, 'text', {x: left + 6, y: bottom - 11, class: 'quad'}, quad[2]);
  
  
  const qLR = make(root, 'text', {x: right - 5, y: bottom - 11, class: 'quad', 'text-anchor': 'end'}, quad[3]);
  
  

  let minorX = '', minorY = '';
  for (let d = 2; d < 6; d++) {
    for (let m = 2; m < 10; m++) minorX += 'M' + X(d + Math.log10(m)) + ' ' + bottom + 'v5';
  }
  for (let d = 2; d < 7; d++) {
    for (let m = 2; m < 10; m++) {
      if (Y(d + Math.log10(m)) > top) minorY += 'M' + left + ' ' + Y(d + Math.log10(m)) + 'h-5';
    }
  }
  const minor = make(root, 'path', {d: minorX + minorY, stroke: '#555', 'stroke-width': 1.5, fill: 'none'});
  
  

  flowXDecades.forEach(d => {
    const px = X(d);
    const tick = make(root, 'line', {x1: px, x2: px, y1: bottom, y2: bottom + 8, stroke: '#444', 'stroke-width': 2});
    
    
    const label = make(root, 'text', {x: px + 2, y: 2176, 'text-anchor': 'middle', style: 'font-size:24px'}, '10');
    
    
    make(label, 'tspan', {dy: -11, style: 'font-size:16px'}, String(d));
  });
  flowYDecades.forEach((d, i) => {
    const py = Y(d);
    const tick = make(root, 'line', {x1: left, x2: left - 8, y1: py, y2: py, stroke: '#444', 'stroke-width': 2});
    
    
    const lx = left - 13, ly = py + 13;
    const label = make(root, 'text', {x: lx, y: ly, transform: 'rotate(-90 ' + lx + ' ' + ly + ')', style: 'font-size:24px'}, '10');
    
    
    make(label, 'tspan', {dy: -11, style: 'font-size:16px'}, flowYExponents[i]);
  });
}
const flowRoot = document.getElementById('flowPlots');
drawFlowPlot(flowRoot, 120, 2137, flowClouds1, flowStrays1, flowGate1, flowQuad1);
drawFlowPlot(flowRoot, 586, 2135, flowClouds2, flowStrays2, flowGate2, flowQuad2);
drawFlowPlot(flowRoot, 1055, 2137, flowClouds3, flowStrays3, flowGate3, flowQuad3);

// ---------- colonies ----------
function drawColonies(id, list, ink) {
  const host = document.getElementById(id);
  list.forEach(c => {
    const colony = make(host, 'ellipse', {cx: c[0], cy: c[1], rx: c[2], ry: c[3], fill: ink, 'fill-opacity': c[4]});
    
    
  });
}
drawColonies('colonies1', coloniesPlate1, '#1c08c4');
drawColonies('colonies2', coloniesPlate2, '#2414cc');
drawColonies('colonies3', coloniesPlate3, '#2414cc');

// ---------- stained cells ----------
function drawCells(id, list, bulge) {
  const host = document.getElementById(id);
  list.forEach(c => {
    const w = c[2] * bulge, l = c[3];
    const d = 'M0 ' + (-l) + 'Q' + w + ' ' + (-l * 0.15) + ' 0 ' + l + 'Q' + (-w) + ' ' + (-l * 0.15) + ' 0 ' + (-l) + 'Z';
    const cell = make(host, 'path', {d: d, transform: 'translate(' + c[0] + ' ' + c[1] + ') rotate(' + c[4] + ')'});
    
    
  });
}
drawCells('cells1', cellsField1, 2);
drawCells('cells2', cellsField2, 1.6);
drawCells('cells3', cellsField3, 1.6);
</script>
</body>
</html>
